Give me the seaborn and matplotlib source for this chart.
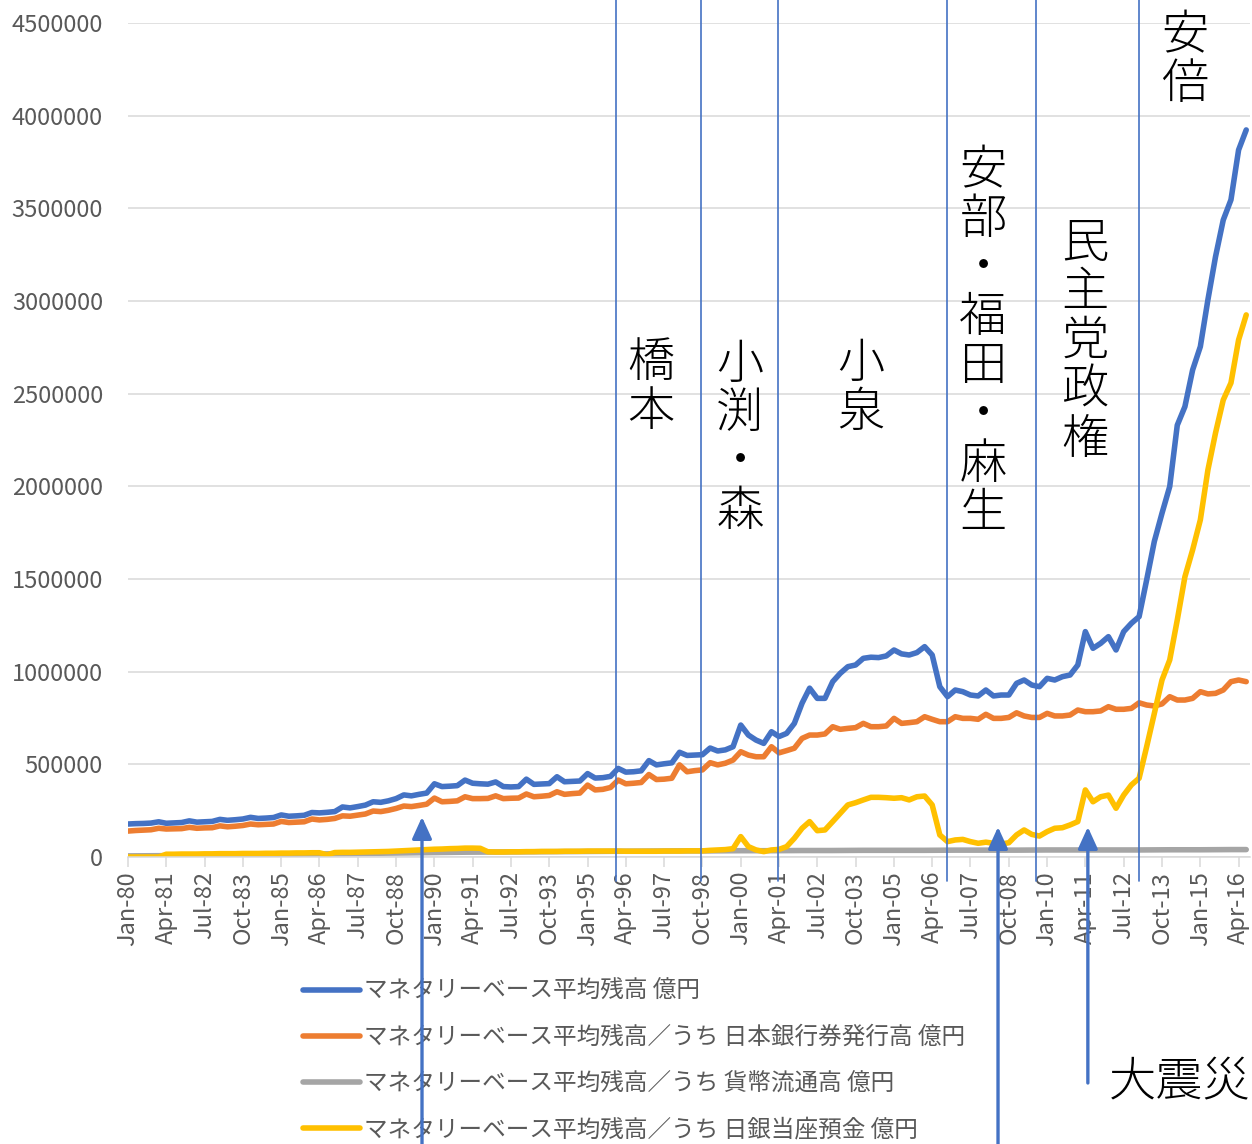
import pandas as pd
import numpy as np
import matplotlib
matplotlib.use('Agg')
import matplotlib.pyplot as plt
import seaborn as sns

# quarterly points (Jan, Apr, Jul, Oct), 億円
quarter_dates = pd.date_range('1980-01-01', '2016-07-01', freq='QS-JAN')

base_total = [
    178000, 180000, 181000, 183000,
    190000, 182000, 184000, 186000,
    195000, 188000, 190000, 192000,
    203000, 198000, 201000, 205000,
    214000, 208000, 210000, 213000,
    227000, 220000, 222000, 225000,
    240000, 238000, 241000, 245000,
    270000, 265000, 272000, 280000,
    298000, 295000, 303000, 315000,
    335000, 330000, 338000, 345000,
    395000, 380000, 382000, 385000,
    415000, 398000, 395000, 393000,
    405000, 380000, 378000, 380000,
    420000, 392000, 394000, 396000,
    433000, 406000, 408000, 410000,
    450000, 426000, 428000, 435000,
    478000, 458000, 460000, 465000,
    520000, 497000, 503000, 508000,
    565000, 548000, 550000, 552000,
    588000, 572000, 578000, 595000,
    712000, 658000, 631000, 613000,
    676000, 650000, 667000, 721000,
    830000, 911000, 856000, 856000,
    946000, 991000, 1027000, 1036000,
    1072000, 1078000, 1076000, 1085000,
    1117000, 1096000, 1090000, 1103000,
    1135000, 1090000, 919000, 865000,
    901000, 892000, 874000, 869000,
    901000, 869000, 874000, 874000,
    937000, 955000, 928000, 919000,
    964000, 955000, 973000, 982000,
    1036000, 1216000, 1126000, 1153000,
    1189000, 1117000, 1216000, 1261000,
    1297000, 1495000, 1702000, 1855000,
    1999000, 2330000, 2430000, 2628000,
    2754000, 3006000, 3239000, 3437000,
    3546000, 3815000, 3923000,
]

banknotes = [
    140000, 143000, 145000, 147000,
    155000, 151000, 152000, 153000,
    160000, 155000, 157000, 158000,
    168000, 163000, 166000, 170000,
    178000, 174000, 176000, 178000,
    192000, 186000, 188000, 190000,
    205000, 200000, 203000, 208000,
    222000, 220000, 226000, 232000,
    248000, 245000, 252000, 262000,
    275000, 272000, 278000, 285000,
    318000, 298000, 300000, 303000,
    325000, 315000, 315000, 316000,
    330000, 315000, 317000, 318000,
    340000, 325000, 328000, 332000,
    352000, 338000, 342000, 345000,
    388000, 362000, 365000, 375000,
    415000, 395000, 398000, 402000,
    445000, 418000, 420000, 425000,
    497000, 460000, 466000, 470000,
    509000, 497000, 506000, 523000,
    568000, 550000, 541000, 541000,
    595000, 562000, 574000, 587000,
    640000, 658000, 658000, 664000,
    703000, 689000, 694000, 698000,
    721000, 703000, 703000, 707000,
    748000, 721000, 725000, 730000,
    757000, 743000, 730000, 730000,
    757000, 748000, 748000, 743000,
    770000, 748000, 748000, 753000,
    778000, 761000, 753000, 753000,
    775000, 761000, 761000, 766000,
    793000, 784000, 784000, 788000,
    811000, 797000, 797000, 802000,
    832000, 820000, 815000, 826000,
    865000, 847000, 847000, 856000,
    892000, 880000, 883000, 901000,
    946000, 955000, 946000,
]

current_acct = [
    0, 0, 0, 0,
    0, 15000, 15000, 16000,
    16000, 16000, 17000, 17000,
    18000, 18000, 18000, 19000,
    19000, 19000, 20000, 20000,
    21000, 21000, 22000, 22000,
    23000, 23000, 12000, 24000,
    25000, 25000, 26000, 27000,
    28000, 29000, 30000, 32000,
    34000, 36000, 38000, 40000,
    42000, 43000, 45000, 46000,
    48000, 48000, 47000, 28000,
    27000, 27000, 28000, 28000,
    29000, 29000, 30000, 30000,
    30000, 31000, 31000, 31000,
    32000, 32000, 32000, 32000,
    32000, 31000, 31000, 31000,
    31000, 31000, 32000, 32000,
    32000, 33000, 33000, 33000,
    36000, 38000, 40000, 45000,
    110000, 56000, 38000, 29000,
    38000, 41000, 56000, 101000,
    155000, 191000, 142000, 146000,
    191000, 236000, 281000, 293000,
    308000, 322000, 322000, 320000,
    317000, 320000, 308000, 325000,
    329000, 281000, 119000, 83000,
    92000, 95000, 83000, 74000,
    80000, 74000, 70000, 77000,
    119000, 146000, 122000, 113000,
    137000, 155000, 158000, 173000,
    191000, 362000, 298000, 325000,
    334000, 263000, 334000, 389000,
    425000, 595000, 775000, 955000,
    1063000, 1279000, 1512000, 1657000,
    1819000, 2088000, 2288000, 2466000,
    2558000, 2790000, 2925000,
]

# coins, yearly (Jan) plus last month
coin_dates = list(pd.date_range('1980-01-01', '2016-01-01', freq='YS')) + [pd.Timestamp('2016-07-01')]
coins = [6000, 7000, 8000, 10000, 12000, 14000, 16000, 18000, 20000, 22000,
         24000, 26000, 27000, 28000, 29000, 30000, 31000, 32000, 33000, 33000,
         34000, 34000, 35000, 35000, 36000, 36000, 36000, 37000, 37000, 37000,
         38000, 38000, 38000, 38000, 39000, 39000, 40000, 40000]

series_names = [
    'マネタリーベース平均残高 億円',
    'マネタリーベース平均残高／うち 日本銀行券発行高 億円',
    'マネタリーベース平均残高／うち 貨幣流通高 億円',
    'マネタリーベース平均残高／うち 日銀当座預金 億円',
]
colors = ['#4472C4', '#ED7D31', '#A5A5A5', '#FFC000']

# cabinet change lines and their labels
event_dates = pd.to_datetime(['1995-12-10', '1998-09-18', '2001-03-22',
                              '2006-09-25', '2009-08-18', '2013-01-01'])
cabinet_labels = ['橋本', '小渕・森', '小泉', '安部・福田・麻生', '民主党政権', '安倍']
cabinet_pos = [(651, 387), (740, 438), (861, 388), (983, 342), (1085, 341), (1185, 60)]

arrow_dates = pd.to_datetime(['1989-08-06', '2008-05-25', '2011-05-01'])
arrow_tips = [216000, 162000, 162000]
arrow_tails = [0.0, 0.0, 1 - 1083 / 1144]

df = pd.concat([
    pd.DataFrame({'date': quarter_dates, 'value': base_total, 'series': series_names[0]}),
    pd.DataFrame({'date': quarter_dates, 'value': banknotes, 'series': series_names[1]}),
    pd.DataFrame({'date': coin_dates, 'value': coins, 'series': series_names[2]}),
    pd.DataFrame({'date': quarter_dates, 'value': current_acct, 'series': series_names[3]}),
])

sns.set_theme(style='white')
plt.rcParams['font.family'] = ['Noto Sans CJK JP', 'DejaVu Sans']

W, H = 1252, 1144
fig = plt.figure(figsize=(W / 100, H / 100), dpi=100)
ax = fig.add_axes([128 / W, 1 - 857 / H, (1250 - 128) / W, (857 - 23) / H])

sns.lineplot(data=df, x='date', y='value', hue='series', hue_order=series_names,
             palette=colors, linewidth=4.0, legend=False, ax=ax, sort=True)

ax.set_ylim(0, 4500000)
ax.set_xlim(pd.Timestamp('1980-01-01'), pd.Timestamp('2016-08-15'))
yt = np.arange(0, 4500001, 500000)
ax.set_yticks(yt)
ax.set_yticklabels([str(v) for v in yt])
xt = pd.date_range('1980-01-01', '2016-04-01', freq='15MS')
ax.set_xticks(xt)
ax.set_xticklabels(xt.strftime('%b-%y'), rotation=90)
ax.set_xlabel('')
ax.set_ylabel('')

ax.grid(axis='y', color='#D9D9D9', lw=1.1)
ax.grid(axis='x', visible=False)
for s in ['top', 'right', 'left']:
    ax.spines[s].set_visible(False)
ax.spines['bottom'].set_color('#D9D9D9')
ax.spines['bottom'].set_linewidth(1.1)
ax.tick_params(axis='x', length=7, width=1.1, color='#D9D9D9', pad=3,
               labelsize=17, labelcolor='#595959', bottom=True)
ax.tick_params(axis='y', length=0, pad=18, labelsize=17, labelcolor='#595959')

leg = ax.legend(handles=ax.lines[:4], labels=series_names, loc='upper left',
                bbox_to_anchor=(303 / W, 1 - 980 / H), bbox_transform=fig.transFigure,
                frameon=False, fontsize=17, handlelength=2.4, handletextpad=0.2,
                labelspacing=0.98, borderpad=0, borderaxespad=0)
for t in leg.get_texts():
    t.set_color('#595959')

for d in event_dates:
    ax.plot([d, d], [-0.0288, 1.0276], transform=ax.get_xaxis_transform(),
            clip_on=False, color='#4472C4', lw=1.2, zorder=5)

for d, tip, tail in zip(arrow_dates, arrow_tips, arrow_tails):
    ax.annotate('', xy=(d, tip), xycoords='data',
                xytext=(d, tail), textcoords=('data', 'figure fraction'),
                arrowprops=dict(arrowstyle='-|>,head_length=1.1,head_width=0.5',
                                color='#4472C4', lw=2.4, shrinkA=0, shrinkB=0),
                annotation_clip=False, zorder=6)

for lab, (px, py) in zip(cabinet_labels, cabinet_pos):
    fig.text(px / W, 1 - py / H, '\n'.join(lab), ha='center', va='center',
             fontsize=34, fontweight='light', color='black', linespacing=1.0,
             multialignment='center')

fig.text(1180 / W, 1 - 1083 / H, '大震災', ha='center', va='center', fontsize=34,
         fontweight='light', color='black')

fig.savefig('out.png', dpi=100)
